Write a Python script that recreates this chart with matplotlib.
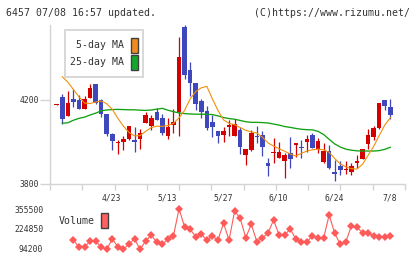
import numpy as np
import matplotlib
matplotlib.use('Agg')
import matplotlib.pyplot as plt
from matplotlib.patches import Rectangle
from matplotlib.transforms import blended_transform_factory

# chart values (one entry per trading day)
opens = [4177, 4214, 4125, 4205, 4200, 4158, 4211, 4276, 4200, 4133,
         4039, 3996, 3998, 4012, 4009, 4015, 4092, 4077, 4141, 4112,
         4029, 4082, 4144, 4547, 4343, 4281, 4194, 4147, 4093, 4050,
         4034, 4069, 4029, 4057, 3939, 3961, 4028, 4031, 3897, 3948,
         3924, 3910, 3945, 3985, 3973, 4001, 4033, 3967, 3904, 3956,
         3856, 3885, 3864, 3858, 3901, 3919, 3992, 4022, 4065, 4200,
         4165]
highs = [4181, 4229, 4242, 4253, 4224, 4220, 4274, 4276, 4205, 4135,
         4042, 4007, 4026, 4076, 4073, 4061, 4143, 4127, 4163, 4132,
         4112, 4155, 4500, 4558, 4380, 4283, 4203, 4171, 4128, 4050,
         4073, 4104, 4111, 4070, 3968, 4057, 4076, 4050, 3925, 4018,
         4000, 3948, 4022, 3993, 4007, 4033, 4041, 4017, 3993, 3985,
         3911, 3910, 3908, 3901, 3937, 3966, 4062, 4076, 4187, 4202,
         4204]
lows = [4176, 4084, 4125, 4164, 4158, 4156, 4211, 4180, 4120, 4030,
        3962, 3943, 3962, 4010, 3953, 3967, 4090, 4057, 4102, 4033,
        4015, 4044, 4029, 4302, 4218, 4154, 4115, 4055, 4021, 3996,
        4001, 4029, 4027, 3940, 3888, 3958, 3996, 3934, 3837, 3897,
        3922, 3829, 3877, 3926, 3925, 3953, 3970, 3948, 3901, 3870,
        3815, 3842, 3846, 3840, 3874, 3917, 3964, 4010, 4061, 4154,
        4111]
closes = [4180, 4107, 4185, 4192, 4158, 4205, 4258, 4184, 4132, 4036,
          4005, 3999, 4015, 4074, 4001, 4041, 4127, 4114, 4106, 4044,
          4069, 4093, 4404, 4320, 4279, 4179, 4141, 4068, 4073, 4030,
          4052, 4079, 4085, 3973, 3966, 4041, 4025, 3977, 3886, 3951,
          3950, 3937, 3920, 3993, 3971, 4014, 3972, 4003, 3956, 3877,
          3844, 3867, 3869, 3886, 3908, 3966, 4033, 4068, 4185, 4173,
          4130]

# moving averages start on the 2nd day
ma5 = [4311, 4285, 4250, 4215, 4185, 4183, 4190, 4195, 4182, 4155,
       4112, 4075, 4045, 4028, 4030, 4050, 4068, 4075, 4074, 4078,
       4088, 4115, 4150, 4205, 4240, 4258, 4265, 4205, 4150, 4105,
       4088, 4082, 4068, 4055, 4047, 4042, 4022, 3995, 3980, 3967,
       3955, 3942, 3932, 3945, 3956, 3962, 3965, 3962, 3950, 3920,
       3895, 3880, 3872, 3870, 3893, 3935, 3978, 4030, 4080, 4115]
ma25 = [4089, 4091, 4103, 4112, 4118, 4128, 4137, 4148, 4152, 4154,
        4155, 4154, 4153, 4153, 4151, 4150, 4152, 4156, 4160, 4151,
        4144, 4138, 4135, 4133, 4132, 4132, 4132, 4130, 4124, 4116,
        4111, 4108, 4102, 4096, 4093, 4093, 4092, 4090, 4085, 4080,
        4073, 4069, 4064, 4060, 4058, 4057, 4050, 4035, 4012, 3990,
        3975, 3965, 3960, 3957, 3956, 3956, 3956, 3958, 3964, 3974]

# volume starts on the 4th day
volume = [149800, 100900, 100900, 143100, 143100, 100900, 87500, 156500,
          104900, 87500, 123000, 156500, 87500, 143100, 183300, 134400,
          123000, 154500, 178600, 357500, 238900, 221500, 171900, 188000,
          149800, 176600, 149800, 261700, 149800, 344100, 295200, 165200,
          255000, 138400, 165200, 194700, 283800, 183300, 183300, 223500,
          156500, 134400, 138400, 176600, 161200, 161200, 317300, 194700,
          121000, 138400, 243600, 234900, 198700, 198700, 176600, 171900,
          171900, 176600]

date_labels = ['4/23', '5/13', '5/27', '6/10', '6/24', '7/8']
date_pos = [11, 21, 31, 41, 51, 61]
price_ticks = [3800, 4200]
volume_ticks = [94200, 224850, 355500]

W, H = 420, 259
MONO = 'DejaVu Sans Mono'
TXT = '#333333'
GRID = '#d4d4d4'
UP = '#d40000'
DOWN = '#3f47bd'


def fx(px):
    return px / W


def fy(py):
    return 1 - py / H


fig = plt.figure(figsize=(W / 100, H / 100), dpi=100)
fig.patch.set_facecolor('white')

x = np.arange(1, len(closes) + 1)
xlim = (-0.205, 63.64)

# ---- price panel
ax = fig.add_axes([fx(50), fy(183.7), fx(405) - fx(50), (183.7 - 25) / H])
ax.set_xlim(*xlim)
ax.set_ylim(3800, 4558)
for s in ('top', 'right'):
    ax.spines[s].set_visible(False)
for s in ('left', 'bottom'):
    ax.spines[s].set_color(GRID)
    ax.spines[s].set_linewidth(1.0)

ax.set_yticks(price_ticks)
ax.set_yticklabels([str(v) for v in price_ticks], fontsize=5.8, family=MONO, color=TXT)
ax.tick_params(axis='y', length=7.2, width=1.0, color=GRID, pad=0.6)
ax.set_xticks(np.linspace(xlim[0], xlim[1], 12))
ax.set_xticklabels([])
ax.tick_params(axis='x', length=4.0, width=1.0, color=GRID)

trans = blended_transform_factory(ax.transData, ax.transAxes)
for pos, lab in zip(date_pos, date_labels):
    ax.text(pos - 0.1, -0.092, lab, transform=trans, ha='center', va='center',
            fontsize=5.8, family=MONO, color=TXT)

o = np.array(opens)
c = np.array(closes)
cols = [UP if cc >= oo else DOWN for oo, cc in zip(o, c)]
ax.vlines(x, lows, highs, colors=cols, linewidth=0.9, zorder=2)
ax.bar(x, np.maximum(np.abs(c - o), 5), bottom=np.minimum(o, c), width=0.82,
       color=cols, linewidth=0, zorder=3)

ax.plot(x[1:], ma25, color='#12a112', lw=0.95, zorder=4)
ax.plot(x[1:], ma5, color='#f0900a', lw=0.8, zorder=5)

# ---- volume panel
vol_lo = 94200 - (253 - 248.3) * 6700
vol_hi = 94200 + (248.3 - 205) * 6700
vax = fig.add_axes([fx(50), fy(253), fx(405) - fx(50), (253 - 205) / H])
vax.set_xlim(*xlim)
vax.set_ylim(vol_lo, vol_hi)
for s in vax.spines.values():
    s.set_visible(False)
vax.set_xticks([])
vax.set_yticks(volume_ticks)
vax.set_yticklabels([str(v) for v in volume_ticks], fontsize=5.8, family=MONO, color=TXT)
vax.tick_params(axis='y', length=0, pad=4.8)
vax.plot(x[3:], volume, color='#ff5a5a', lw=0.8, marker='D', ms=4.5,
         markeredgewidth=0, clip_on=False)

# ---- legends
fig.patches.append(Rectangle((fx(65.3), fy(77.3)), (143.3 - 65.3) / W, (77.3 - 30) / H,
                             transform=fig.transFigure, fill=False,
                             edgecolor='#d8d8d8', linewidth=1.4))
for yc, lab, col in [(45, '5-day MA', '#f08c1e'), (62, '25-day MA', '#12a82a')]:
    fig.text(fx(124.5), fy(yc), lab, ha='right', va='center', fontsize=7.1,
             family=MONO, color=TXT)
    fig.patches.append(Rectangle((fx(131), fy(yc + 7.5)), 6.7 / W, 15 / H,
                                 transform=fig.transFigure, facecolor=col,
                                 edgecolor='#404040', linewidth=1.0))

fig.text(fx(59), fy(221), 'Volume', ha='left', va='center', fontsize=7.1,
         family=MONO, color=TXT)
fig.patches.append(Rectangle((fx(101), fy(228.3)), 6.7 / W, 15 / H,
                             transform=fig.transFigure, facecolor='#ff6060',
                             edgecolor='#404040', linewidth=1.0))

# ---- header
fig.text(fx(6.5), fy(12.5), '6457 07/08 16:57 updated.', ha='left', va='center',
         fontsize=7.1, family=MONO, color=TXT)
fig.text(fx(409.5), fy(12.5), '(C)https://www.rizumu.net/', ha='right', va='center',
         fontsize=7.1, family=MONO, color=TXT)

fig.savefig('out.png', dpi=100, facecolor='white')
